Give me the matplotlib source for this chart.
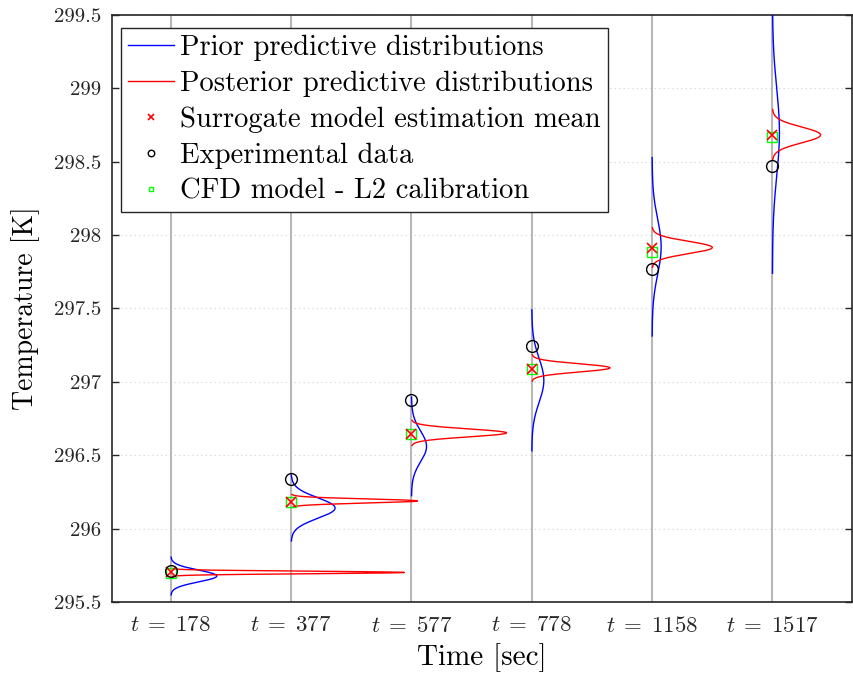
import numpy as np
import matplotlib
matplotlib.use('Agg')
import matplotlib.pyplot as plt

# times (tick labels) and values
times = [178, 377, 577, 778, 1158, 1517]
exp_data = [295.711, 296.338, 296.875, 297.245, 297.770, 298.470]
surrogate_mean = [295.702, 296.183, 296.647, 297.090, 297.915, 298.682]
cfd_l2 = [295.700, 296.180, 296.645, 297.085, 297.885, 298.665]

prior_mean = [295.677, 296.140, 296.560, 297.010, 297.920, 298.700]
prior_std = [0.040, 0.070, 0.105, 0.150, 0.190, 0.300]
prior_peak = [0.382, 0.365, 0.125, 0.100, 0.075, 0.058]

post_mean = [295.701, 296.188, 296.652, 297.095, 297.915, 298.682]
post_std = [0.0085, 0.014, 0.027, 0.028, 0.042, 0.054]
post_peak = [1.94, 1.05, 0.79, 0.65, 0.50, 0.40]

plt.rcParams['font.family'] = 'serif'
plt.rcParams['font.serif'] = ['cmr10']
plt.rcParams['mathtext.fontset'] = 'cm'
plt.rcParams['axes.formatter.use_mathtext'] = True


def side_curve(ax, pos, mean, std, peak, color, label=None):
    y = np.linspace(mean - 3.2 * std, mean + 3.2 * std, 300)
    x = pos + peak * np.exp(-0.5 * ((y - mean) / std) ** 2)
    ax.plot(x, y, color=color, linewidth=1.0, label=label, zorder=3)


fig = plt.figure(figsize=(8.54, 6.76), dpi=100)
ax = fig.add_axes([0.131, 0.1095, 0.8665, 0.8685])

positions = np.arange(1, len(times) + 1)
for p in positions:
    ax.axvline(p, color='#b8b8b8', linewidth=1.5, zorder=1)

for i, p in enumerate(positions):
    side_curve(ax, p, prior_mean[i], prior_std[i], prior_peak[i], 'blue',
               'Prior predictive distributions' if i == 0 else None)
for i, p in enumerate(positions):
    side_curve(ax, p, post_mean[i], post_std[i], post_peak[i], 'red',
               'Posterior predictive distributions' if i == 0 else None)

ax.plot(positions, surrogate_mean, 'x', color='red', markersize=7, markeredgewidth=1.2,
        linestyle='none', label='Surrogate model estimation mean', zorder=5)
ax.plot(positions, exp_data, 'o', markerfacecolor='none', markeredgecolor='black',
        markersize=8.5, markeredgewidth=1.0, linestyle='none', label='Experimental data', zorder=5)
ax.plot(positions, cfd_l2, 's', markerfacecolor='none', markeredgecolor='#00ff00',
        markersize=6.5, markeredgewidth=1.0, linestyle='none', label='CFD model - L2 calibration', zorder=4)

ax.set_xlim(0.51, 6.66)
ax.set_ylim(295.5, 299.5)
ax.set_xticks(positions)
ax.set_xticklabels([r'$t\;=\;%d$' % t for t in times])
ax.set_yticks(np.arange(295.5, 299.51, 0.5))
ax.set_yticklabels(['%g' % v for v in np.arange(295.5, 299.51, 0.5)])
ax.yaxis.grid(True, linestyle=(0, (1, 3)), color='#d0d0d0', linewidth=0.8)
ax.set_axisbelow(True)
ax.tick_params(direction='in', length=5, width=1.0, labelsize=15, colors='#262626',
               top=False, right=True, pad=8)
ax.tick_params(axis='x', length=0, pad=10, labelsize=16.5)
for s in ax.spines.values():
    s.set_linewidth(1.2)
    s.set_color('#262626')

ax.set_xlabel('Time [sec]', fontsize=21, labelpad=5)
ax.set_ylabel('Temperature [K]', fontsize=20, labelpad=10)

leg = ax.legend(loc='upper left', fontsize=20.6, frameon=True, fancybox=False,
                edgecolor='#262626', framealpha=1.0, borderpad=0.25, labelspacing=0.33,
                handlelength=1.6, handletextpad=0.2, markerscale=0.55, borderaxespad=0,
                bbox_to_anchor=(0.0128, 0.978))
leg.get_frame().set_linewidth(1.0)

fig.savefig('out.png', dpi=100)
